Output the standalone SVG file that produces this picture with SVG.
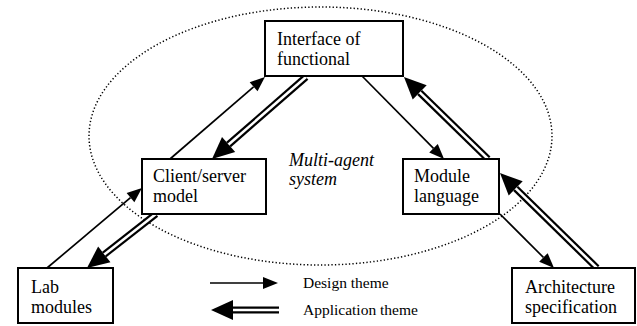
<svg xmlns="http://www.w3.org/2000/svg" width="637" height="326" viewBox="0 0 637 326">
  <style>
    text { font-family: 'Liberation Serif', Tinos, 'Times New Roman', Times, 'DejaVu Serif', serif; fill: #000; }
    .box { fill: #fff; stroke: #000; stroke-width: 2; }
    .lbl { font-size: 18px; }
    .note { font-size: 18px; font-style: italic; }
    .key { font-size: 15.5px; }
    .design { fill: none; stroke: #000; stroke-width: 1.7; marker-end: url(#headDesign); }
    .appOuter { fill: none; stroke: #000; stroke-width: 7; marker-end: url(#headApp); }
    .appInner { fill: none; stroke: #fff; stroke-width: 2.6; }
  </style>
  <defs>
    <marker id="headDesign" markerUnits="userSpaceOnUse" markerWidth="15" markerHeight="12" refX="0" refY="6" orient="auto" overflow="visible">
      <path d="M0,0 L15,6 L0,12 Z" fill="#000"/>
    </marker>
    <marker id="headApp" markerUnits="userSpaceOnUse" markerWidth="22" markerHeight="20" refX="0" refY="10" orient="auto" overflow="visible">
      <path d="M0,0 L22,10 L0,20 Z" fill="#000"/>
    </marker>
  </defs>

  <rect width="637" height="326" fill="#fff"/>

  <!-- boundary of the agent system -->
  <ellipse id="agent-boundary" cx="320.5" cy="136" rx="231.5" ry="129" fill="none" stroke="#000" stroke-width="1.5" stroke-dasharray="1.3 2.2"/>

  <g id="connectors">
    <!-- design theme (single line) -->
    <path class="design" d="M170,159 L253.6,86.8"/>
    <path class="design" d="M362,76 L433.5,148.3"/>
    <path class="design" d="M47,268 L130.5,197.7"/>
    <path class="design" d="M500,214 L543.4,257.4"/>
    <!-- application theme (double line) -->
    <path class="appOuter" d="M306,77 L228.6,144.5"/>
    <path class="appInner" d="M306,77 L228.6,144.5"/>
    <path class="appOuter" d="M488,159 L419.7,92.4"/>
    <path class="appInner" d="M488,159 L419.7,92.4"/>
    <path class="appOuter" d="M156,214 L104.3,254.4"/>
    <path class="appInner" d="M156,214 L104.3,254.4"/>
    <path class="appOuter" d="M597,268 L515.7,188.4"/>
    <path class="appInner" d="M597,268 L515.7,188.4"/>
  </g>

  <g id="interface">
    <rect class="box" x="265" y="21" width="138" height="55"/>
    <text class="lbl" x="277" y="45">Interface of</text>
    <text class="lbl" x="277" y="65">functional</text>
  </g>

  <g id="client-server">
    <rect class="box" x="142" y="159" width="124" height="55"/>
    <text class="lbl" x="153" y="182">Client/server</text>
    <text class="lbl" x="153" y="202">model</text>
  </g>

  <g id="module-language">
    <rect class="box" x="403" y="159" width="96" height="55"/>
    <text class="lbl" x="414" y="182">Module</text>
    <text class="lbl" x="414" y="202">language</text>
  </g>

  <g id="lab-modules">
    <rect class="box" x="18" y="268" width="95" height="55"/>
    <text class="lbl" x="31" y="293">Lab</text>
    <text class="lbl" x="31" y="313">modules</text>
  </g>

  <g id="architecture">
    <rect class="box" x="512" y="268" width="123" height="55"/>
    <text class="lbl" x="525" y="293">Architecture</text>
    <text class="lbl" x="525" y="313">specification</text>
  </g>

  <g id="system-label">
    <text class="note" x="289" y="166">Multi-agent</text>
    <text class="note" x="289" y="185">system</text>
  </g>

  <g id="legend">
    <path class="design" d="M210,283 L263,283"/>
    <text class="key" x="303" y="288">Design theme</text>
    <path class="appOuter" d="M279,310 L233,310"/>
    <path class="appInner" d="M279,310 L233,310"/>
    <text class="key" x="303" y="315">Application theme</text>
  </g>
</svg>
